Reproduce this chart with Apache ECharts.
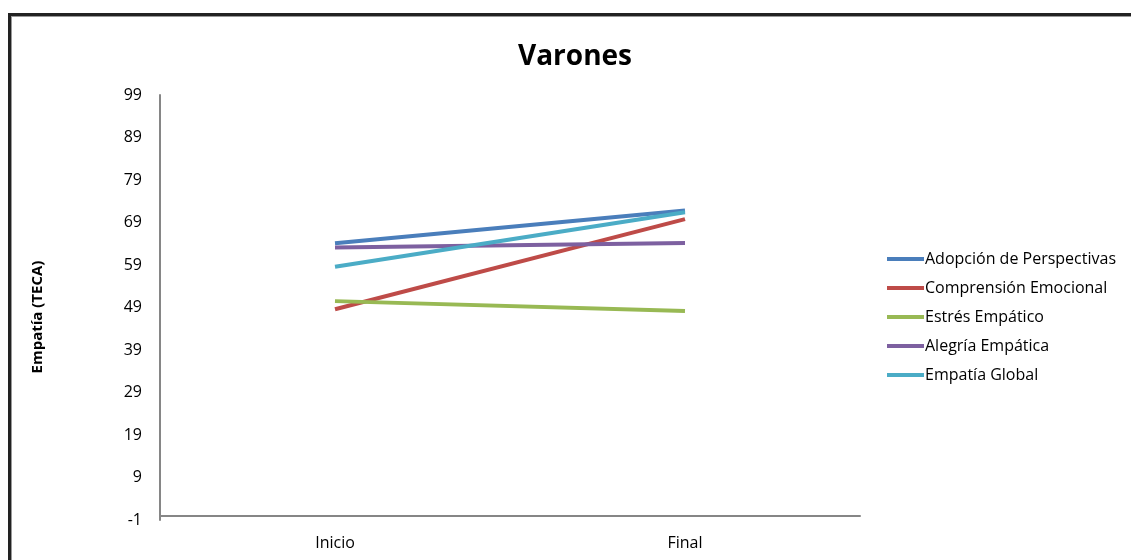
<!DOCTYPE html>
<html>
<head>
<meta charset="utf-8">
<script src="https://cdn.jsdelivr.net/npm/echarts@6/dist/echarts.min.js"></script>
<style>
  html, body { margin: 0; padding: 0; background: #fff; }
  #frame { position: absolute; left: 8px; top: 13px; width: 1140px; height: 560px;
           border: 3px solid #222; box-shadow: inset 1px 1px 0 #999; }
  #chart { position: absolute; left: 0; top: 0; width: 1131px; height: 560px; }
</style>
</head>
<body>
<div id="frame"></div>
<div id="chart"></div>
<script>
// Empathy (TECA) scores for boys, start vs end of the programme
const categories = ['Inicio', 'Final'];
const seriesNames = ['Adopción de Perspectivas', 'Comprensión Emocional', 'Estrés Empático', 'Alegría Empática', 'Empatía Global'];
const adopcion = [64.1, 71.8];
const comprension = [48.6, 69.8];
const estres = [50.5, 48.2];
const alegria = [63.1, 64.2];
const global = [58.6, 71.4];
const colors = ['#4A7EBB', '#BE4B48', '#98B954', '#7D60A0', '#4BACC6'];
const yAxisTitle = 'Empatía (TECA)';

const values = [adopcion, comprension, estres, alegria, global];
const font = '"Open Sans", "Noto Sans", sans-serif';

const chart = echarts.init(document.getElementById('chart'));
chart.setOption({
  animation: false,
  title: {
    text: 'Varones', left: 570, top: 38, textAlign: 'center',
    textStyle: { fontFamily: font, fontSize: 28, fontWeight: 'bold', color: '#000' }
  },
  legend: {
    orient: 'vertical', left: 882, top: 246, itemGap: 13,
    itemWidth: 37, itemHeight: 4, icon: 'rect',
    textStyle: { fontFamily: font, fontSize: 16, color: '#000', padding: [0, 0, 0, -4] },
    data: seriesNames
  },
  graphic: [{
    type: 'text', x: 38, y: 317, rotation: Math.PI / 2,
    style: {
      text: yAxisTitle, fontFamily: font, fontSize: 15, fontWeight: 'bold',
      fill: '#000', align: 'center', verticalAlign: 'middle'
    }
  }],
  grid: { left: 160, right: 271, top: 95, bottom: 40 },
  xAxis: {
    type: 'category', data: categories, boundaryGap: true,
    axisLine: { lineStyle: { color: '#868686', width: 2 } },
    axisTick: { show: false },
    axisLabel: { fontFamily: font, fontSize: 16, color: '#000', margin: 15 }
  },
  yAxis: {
    type: 'value', min: -1, max: 99, interval: 10,
    axisLine: { show: true, lineStyle: { color: '#868686', width: 2 } },
    axisTick: { show: false },
    splitLine: { show: false },
    axisLabel: { fontFamily: font, fontSize: 16, color: '#000', margin: 18 }
  },
  series: seriesNames.map((name, i) => ({
    name, type: 'line', data: values[i], symbol: 'none',
    itemStyle: { color: colors[i] },
    lineStyle: { color: colors[i], width: 4 }
  }))
});
</script>
</body>
</html>
